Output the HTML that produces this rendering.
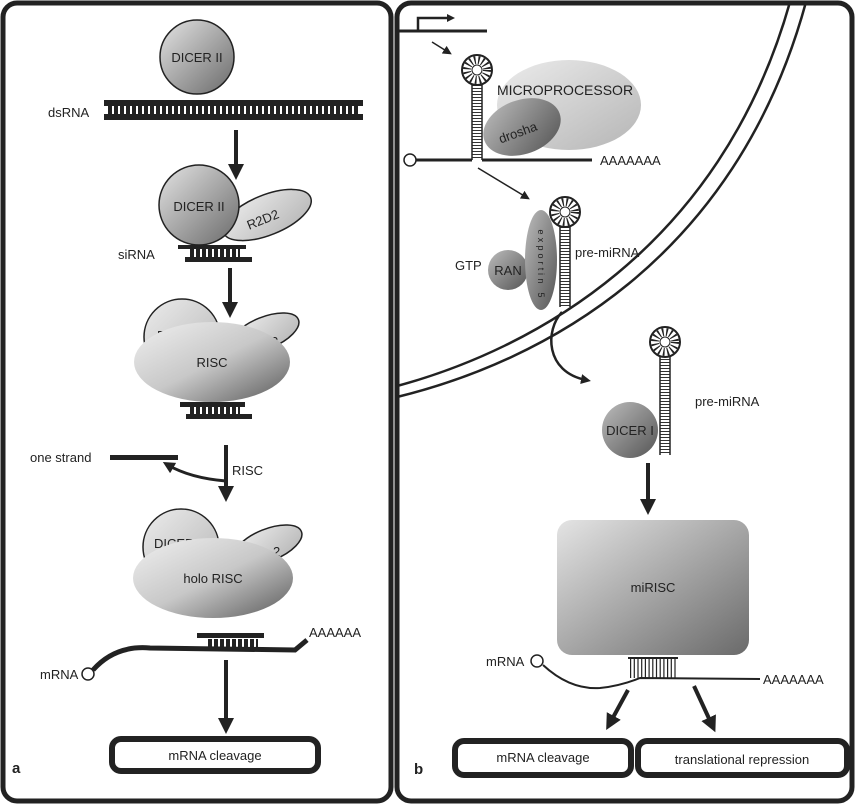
<!DOCTYPE html>
<html><head><meta charset="utf-8"><style>
html,body{margin:0;padding:0;background:#fff}
svg{display:block}
text{font-family:"Liberation Sans",sans-serif;fill:#222}
</style></head><body>
<svg width="856" height="804" viewBox="0 0 856 804" xmlns="http://www.w3.org/2000/svg">
<defs>
<linearGradient id="g1" x1="0" y1="0" x2="1" y2="1"><stop offset="0" stop-color="#e4e4e4"/><stop offset="1" stop-color="#6a6a6a"/></linearGradient>
<linearGradient id="g2" x1="0" y1="0" x2="1" y2="1"><stop offset="0" stop-color="#ececec"/><stop offset="1" stop-color="#b5b5b5"/></linearGradient>
<linearGradient id="g3" x1="0" y1="0" x2="1" y2="1"><stop offset="0" stop-color="#f0f0f0"/><stop offset="0.5" stop-color="#c8c8c8"/><stop offset="1" stop-color="#5a5a5a"/></linearGradient>
<linearGradient id="g4" x1="0" y1="0" x2="1" y2="1"><stop offset="0" stop-color="#bcbcbc"/><stop offset="1" stop-color="#555"/></linearGradient>
<marker id="ah" markerWidth="4" markerHeight="4" refX="2" refY="2" orient="auto" markerUnits="strokeWidth"><path d="M0,0 L4,2 L0,4 Z" fill="#222"/></marker>
<marker id="ahs" markerWidth="6" markerHeight="6" refX="3" refY="3" orient="auto" markerUnits="strokeWidth"><path d="M0,0 L6,3 L0,6 Z" fill="#222"/></marker>
</defs>

<rect x="3" y="3" width="388" height="798" rx="14" fill="none" stroke="#222" stroke-width="5"/>
<rect x="397" y="3" width="455" height="798" rx="14" fill="none" stroke="#222" stroke-width="5"/>

<!-- ===== Panel a ===== -->
<circle cx="197" cy="57" r="37" fill="url(#g1)" stroke="#222" stroke-width="1.5"/>
<text x="197" y="62" font-size="13" text-anchor="middle">DICER II</text>
<text x="48" y="117" font-size="13">dsRNA</text>
<rect x="104" y="100" width="259" height="6" fill="#222"/>
<rect x="104" y="114" width="259" height="6" fill="#222"/>
<line x1="108" y1="110" x2="360" y2="110" stroke="#222" stroke-width="8" stroke-dasharray="4 2"/>

<line x1="236" y1="130" x2="236" y2="172" stroke="#222" stroke-width="4" marker-end="url(#ah)"/>

<ellipse cx="267" cy="215" rx="47" ry="20" transform="rotate(-22 267 215)" fill="url(#g2)" stroke="#222" stroke-width="1.5"/>
<text x="263" y="224" font-size="13" transform="rotate(-22 263 220)" text-anchor="middle">R2D2</text>
<circle cx="199" cy="205" r="40" fill="url(#g1)" stroke="#222" stroke-width="1.5"/>
<text x="199" y="211" font-size="13" text-anchor="middle">DICER II</text>
<text x="118" y="259" font-size="13">siRNA</text>
<rect x="178" y="245" width="68" height="4" fill="#222"/>
<rect x="185" y="257" width="67" height="5" fill="#222"/>
<line x1="190" y1="253" x2="240" y2="253" stroke="#222" stroke-width="8" stroke-dasharray="4 2"/>

<line x1="230" y1="268" x2="230" y2="310" stroke="#222" stroke-width="4" marker-end="url(#ah)"/>

<circle cx="182" cy="337" r="38" fill="url(#g2)" stroke="#222" stroke-width="1.5"/>
<ellipse cx="265" cy="333" rx="36" ry="16" transform="rotate(-22 265 333)" fill="url(#g2)" stroke="#222" stroke-width="1.5"/>
<text x="157" y="340" font-size="13">DICER</text>
<text x="271" y="346" font-size="13">2</text>
<ellipse cx="212" cy="362" rx="78" ry="40" fill="url(#g3)"/>
<text x="212" y="367" font-size="13" text-anchor="middle">RISC</text>
<rect x="180" y="402" width="65" height="5" fill="#222"/>
<rect x="186" y="414" width="66" height="5" fill="#222"/>
<line x1="190" y1="410" x2="240" y2="410" stroke="#222" stroke-width="8" stroke-dasharray="4 2"/>

<text x="30" y="462" font-size="13">one strand</text>
<rect x="110" y="455" width="68" height="5" fill="#222"/>
<line x1="226" y1="445" x2="226" y2="494" stroke="#222" stroke-width="4" marker-end="url(#ah)"/>
<path d="M226,481 Q190,478 168,465" fill="none" stroke="#222" stroke-width="3" marker-end="url(#ah)"/>
<text x="232" y="475" font-size="13">RISC</text>

<circle cx="181" cy="547" r="38" fill="url(#g2)" stroke="#222" stroke-width="1.5"/>
<ellipse cx="268" cy="545" rx="36" ry="16" transform="rotate(-22 268 545)" fill="url(#g2)" stroke="#222" stroke-width="1.5"/>
<text x="154" y="548" font-size="13">DICER</text>
<text x="273" y="556" font-size="13">2</text>
<ellipse cx="213" cy="578" rx="80" ry="40" fill="url(#g3)"/>
<text x="213" y="583" font-size="13" text-anchor="middle">holo RISC</text>

<rect x="197" y="633" width="67" height="5" fill="#222"/>
<line x1="208" y1="643" x2="258" y2="643" stroke="#222" stroke-width="8" stroke-dasharray="4 2"/>
<path d="M93,670 Q115,645 150,648 L295,650 L307,640" fill="none" stroke="#222" stroke-width="5"/>
<circle cx="88" cy="674" r="6" fill="#fff" stroke="#222" stroke-width="1.5"/>
<text x="40" y="679" font-size="13">mRNA</text>
<text x="309" y="637" font-size="13">AAAAAA</text>
<line x1="226" y1="660" x2="226" y2="726" stroke="#222" stroke-width="4" marker-end="url(#ah)"/>
<rect x="112" y="739" width="206" height="32" rx="9" fill="#fff" stroke="#222" stroke-width="6"/>
<text x="215" y="760" font-size="13" text-anchor="middle">mRNA cleavage</text>
<text x="12" y="773" font-size="15" font-weight="bold">a</text>

<!-- ===== Panel b ===== -->
<path d="M397,386 C530,350 720,250 790,2" fill="none" stroke="#222" stroke-width="2.5"/>
<path d="M397,397 C540,362 735,262 806,2" fill="none" stroke="#222" stroke-width="2.5"/>

<path d="M399,31 L487,31" stroke="#222" stroke-width="3" fill="none"/>
<path d="M418,31 L418,18 L448,18" stroke="#222" stroke-width="2.5" fill="none"/>
<path d="M447,14 L455,18 L447,22 Z" fill="#222"/>
<line x1="432" y1="42" x2="448" y2="52" stroke="#222" stroke-width="1.5" marker-end="url(#ahs)"/>

<ellipse cx="569" cy="105" rx="72" ry="45" fill="url(#g2)"/>
<text x="565" y="95" font-size="14" text-anchor="middle">MICROPROCESSOR</text>
<ellipse cx="522" cy="127" rx="40" ry="27" transform="rotate(-20 522 127)" fill="url(#g4)"/>
<text x="518" y="137" font-size="13" transform="rotate(-20 518 133)" text-anchor="middle">drosha</text>

<line x1="472" y1="84" x2="472" y2="160" stroke="#222" stroke-width="1.5"/>
<line x1="482" y1="84" x2="482" y2="160" stroke="#222" stroke-width="1.5"/>
<line x1="477" y1="85" x2="477" y2="158" stroke="#333" stroke-width="9" stroke-dasharray="1 2"/>
<circle cx="477" cy="70" r="15" fill="#fff" stroke="#222" stroke-width="2"/>
<circle cx="477" cy="70" r="10" fill="none" stroke="#222" stroke-width="8" stroke-dasharray="1.5 2.5"/>
<circle cx="477" cy="70" r="5" fill="#fff" stroke="#222" stroke-width="1"/>
<path d="M416,160 L472,160 M482,160 L592,160" stroke="#222" stroke-width="3"/>
<circle cx="410" cy="160" r="6" fill="#fff" stroke="#222" stroke-width="1.5"/>
<text x="600" y="165" font-size="13">AAAAAAA</text>
<line x1="478" y1="168" x2="526" y2="197" stroke="#222" stroke-width="1.5" marker-end="url(#ahs)"/>

<text x="455" y="270" font-size="13">GTP</text>
<circle cx="508" cy="270" r="20" fill="url(#g4)"/>
<text x="508" y="275" font-size="13" text-anchor="middle">RAN</text>
<ellipse cx="541" cy="260" rx="16" ry="50" fill="url(#g4)"/>
<g font-size="9" text-anchor="middle">
<text x="541" y="235" transform="rotate(90 541 232)">e</text>
<text x="541" y="243" transform="rotate(90 541 240)">x</text>
<text x="541" y="251" transform="rotate(90 541 248)">p</text>
<text x="541" y="259" transform="rotate(90 541 256)">o</text>
<text x="541" y="266" transform="rotate(90 541 263)">r</text>
<text x="541" y="272" transform="rotate(90 541 269)">t</text>
<text x="541" y="277" transform="rotate(90 541 274)">i</text>
<text x="541" y="284" transform="rotate(90 541 281)">n</text>
<text x="541" y="298" transform="rotate(90 541 295)">5</text>
</g>
<line x1="560" y1="226" x2="560" y2="307" stroke="#222" stroke-width="1.5"/>
<line x1="570" y1="226" x2="570" y2="307" stroke="#222" stroke-width="1.5"/>
<line x1="565" y1="227" x2="565" y2="306" stroke="#333" stroke-width="9" stroke-dasharray="1 2"/>
<circle cx="565" cy="212" r="15" fill="#fff" stroke="#222" stroke-width="2"/>
<circle cx="565" cy="212" r="10" fill="none" stroke="#222" stroke-width="8" stroke-dasharray="1.5 2.5"/>
<circle cx="565" cy="212" r="5" fill="#fff" stroke="#222" stroke-width="1"/>
<text x="575" y="257" font-size="13">pre-miRNA</text>
<path d="M562,312 C545,330 545,372 586,380" fill="none" stroke="#222" stroke-width="2.5" marker-end="url(#ah)"/>

<line x1="660" y1="355" x2="660" y2="455" stroke="#222" stroke-width="1.5"/>
<line x1="670" y1="355" x2="670" y2="455" stroke="#222" stroke-width="1.5"/>
<line x1="665" y1="356" x2="665" y2="454" stroke="#333" stroke-width="9" stroke-dasharray="1 2"/>
<circle cx="665" cy="342" r="15" fill="#fff" stroke="#222" stroke-width="2"/>
<circle cx="665" cy="342" r="10" fill="none" stroke="#222" stroke-width="8" stroke-dasharray="1.5 2.5"/>
<circle cx="665" cy="342" r="5" fill="#fff" stroke="#222" stroke-width="1"/>
<circle cx="630" cy="430" r="28" fill="url(#g4)"/>
<text x="630" y="435" font-size="13" text-anchor="middle">DICER I</text>
<text x="695" y="406" font-size="13">pre-miRNA</text>
<line x1="648" y1="463" x2="648" y2="507" stroke="#222" stroke-width="4" marker-end="url(#ah)"/>

<rect x="557" y="520" width="192" height="135" rx="15" fill="url(#g1)"/>
<text x="653" y="592" font-size="13" text-anchor="middle">miRISC</text>
<line x1="628" y1="658" x2="678" y2="658" stroke="#222" stroke-width="2"/>
<line x1="630" y1="668" x2="676" y2="668" stroke="#222" stroke-width="20" stroke-dasharray="1.2 2.5"/>
<path d="M543,665 Q570,690 600,688 Q620,686 640,678 L760,679" fill="none" stroke="#222" stroke-width="2"/>
<circle cx="537" cy="661" r="6" fill="#fff" stroke="#222" stroke-width="1.5"/>
<text x="486" y="666" font-size="13">mRNA</text>
<text x="763" y="684" font-size="13">AAAAAAA</text>
<line x1="628" y1="690" x2="610" y2="723" stroke="#222" stroke-width="4" marker-end="url(#ah)"/>
<line x1="694" y1="686" x2="712" y2="725" stroke="#222" stroke-width="4" marker-end="url(#ah)"/>
<rect x="455" y="741" width="176" height="34" rx="9" fill="#fff" stroke="#222" stroke-width="6"/>
<text x="543" y="762" font-size="13" text-anchor="middle">mRNA cleavage</text>
<rect x="638" y="741" width="209" height="34" rx="9" fill="#fff" stroke="#222" stroke-width="6"/>
<text x="742" y="764" font-size="13" text-anchor="middle">translational repression</text>
<text x="414" y="774" font-size="15" font-weight="bold">b</text>
</svg>
</body></html>
